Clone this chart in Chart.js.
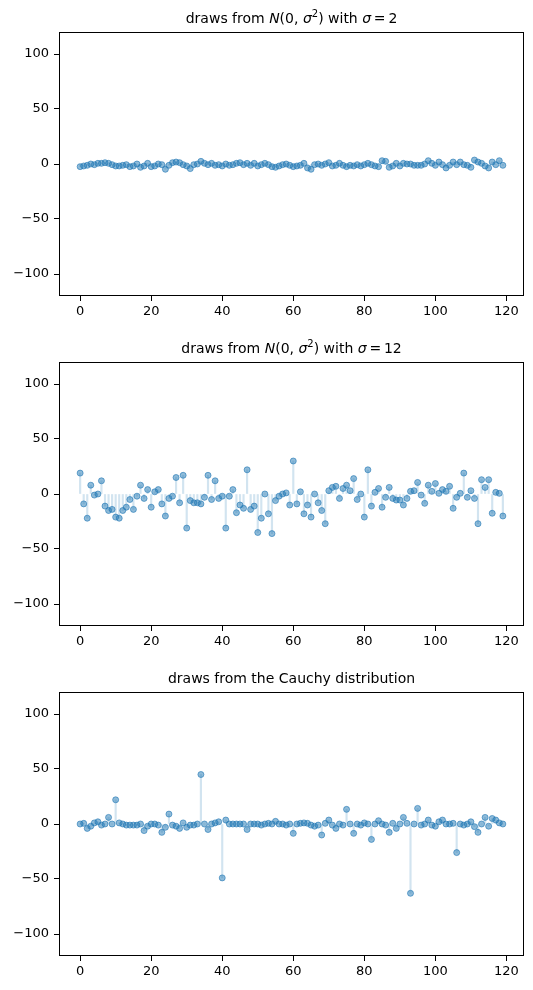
<!DOCTYPE html>
<html>
<head>
<meta charset="utf-8">
<script src="https://cdn.jsdelivr.net/npm/chart.js@4.4.1/dist/chart.umd.min.js"></script>
<style>
  body { margin: 0; background: #fff; }
  canvas { position: absolute; left: 0; }
</style>
</head>
<body>
<canvas id="panel0" width="533" height="330" style="top:0px"></canvas>
<canvas id="panel1" width="533" height="330" style="top:330px"></canvas>
<canvas id="panel2" width="533" height="330" style="top:660px"></canvas>
<script>
// draws (index 0..119 is the x position)
const normalSigma2 = [
  -2.4, -1.8, -1.2, 0, -0.6, 0.6, 0.6, 1.2, 0.6, -0.6,
  -1.8, -1.8, -1.2, -0.6, -2.4, -1.8, 0, -3, -1.8, 0.6,
  -2.4, -1.8, 0, -0.6, -4.8, -1.2, 1.2, 1.8, 1.2, -0.6,
  -1.8, -4.2, -0.6, 0, 2.4, 0.6, -0.6, 0.6, -1.2, -0.6,
  -1.8, 0, -1.2, -0.6, 0.6, 1.2, -0.6, 0.6, -1.2, 0.6,
  -1.8, -0.6, 0.6, -0.6, -2.4, -3, -1.8, -0.6, 0, -1.2,
  -2.4, -1.8, -1.2, 0.6, -3.6, -4.8, -0.6, 0, -1.2, 0,
  1.2, -1.8, -1.2, 0.6, -1.2, -2.4, -1.2, -1.8, -0.6, -1.8,
  -0.6, 0.6, -0.6, -1.8, -2.4, 3, 2.4, -3, -1.8, 0.6,
  -1.8, 0.6, 0, 0, -1.2, -1.2, -1.2, 0, 3, 0.6,
  -1.2, 1.8, -0.6, -3.6, -1.2, 1.8, -0.6, 1.8, -0.6, -1.2,
  -3, 3.6, 1.8, 0.6, -1.8, -3.6, 1.8, -0.6, 3, -1.2
];
const normalSigma12 = [
  19, -9, -22, 8, -1, 0, 12, -11, -15, -14,
  -21, -22, -15, -12, -5, -14, -2, 8, -4, 4,
  -12, 2, 4, -9, -20, -4, -2, 15, -8, 17,
  -31, -6, -8, -8, -9, -3, 17, -5, 12, -4,
  -2, -31, -2, 4, -17, -10, -13, 22, -14, -11,
  -35, -22, 0, -18, -36, -6, -2, 0, 1, -10,
  30, -9, 2, -18, -10, -21, 0, -8, -15, -27,
  3, 6, 7, -4, 5, 8, 3, 14, -5, 0,
  -21, 22, -11, 1.5, 5, -12, -3, 6, -4, -5.5,
  -5.5, -10, -4, 2.4, 3, 10.5, -1, -8.5, 8, 2.4,
  9.5, 0.6, 4, 2.4, 7, -13, -3, 0.6, 19, -3,
  3, -4, -27, 13, 6, 13, -17.5, 1.5, 0.6, -20
];
const cauchyDraws = [
  0, 0.6, -4, -2, 1, 2, -1, 0, 6, 0,
  22, 1, 0, -1, -1, -1, -1, 0, -6, -2,
  0, 0, -1, -7.6, -3, 9, -1, -2, -4, 1,
  -3, -1, -1, 0, 45, 0, -5, 0, 1, 2,
  -49, 3.6, 0, 0, 0, 0, 0, -5, 0, 0,
  0, -1, 0, 0.6, 0, 2.4, 0, 0, -1, 0,
  -8.5, 0, 0.6, 1, 0.6, -1, -2, -1, -10, 0.6,
  3.6, -1, -4, 0, -1, 13.3, 0, -8.5, 0, -1,
  1, 0, -14, 0, 3, 0, -1, -7.6, 0.6, -4,
  0, 6, 0.6, -63, 0, 14.2, -1, 0, 3.6, -1,
  -2, 2, 3.6, 0, 0, 0.6, -26, 0, -1, 0,
  2, -2.4, -7.6, 0, 6, -2, 5, 3.6, 1, 0
];

const panelSeries = [normalSigma2, normalSigma12, cauchyDraws];
// title pieces: [text, style] where style is '', 'i' (italic) or 's' (superscript)
const panelTitles = [
  [['draws from ', ''], ['N', 'i'], ['(0, ', ''], ['σ', 'i'], ['2', 's'], [') with ', ''], ['σ', 'i'], ['\u2009=\u20092', '']],
  [['draws from ', ''], ['N', 'i'], ['(0, ', ''], ['σ', 'i'], ['2', 's'], [') with ', ''], ['σ', 'i'], ['\u2009=\u200912', '']],
  [['draws from the Cauchy distribution', '']]
];
const xTicks = [0, 20, 40, 60, 80, 100, 120];
const yTicks = [-100, -50, 0, 50, 100];

Chart.defaults.font.family = '"DejaVu Sans", sans-serif';
Chart.defaults.font.size = 13;
Chart.defaults.color = '#000';

// axes frame on all four sides
const framePlugin = {
  id: 'frame',
  afterDraw(chart) {
    const a = chart.chartArea;
    const ctx = chart.ctx;
    ctx.save();
    ctx.strokeStyle = '#000';
    ctx.lineWidth = 1;
    ctx.strokeRect(a.left + 0.5, a.top + 0.5, a.right - a.left - 1, a.bottom - a.top - 1);
    ctx.restore();
  }
};

// title with italic / superscript pieces, like mathtext
const richTitlePlugin = {
  id: 'richTitle',
  afterDraw(chart, args, opts) {
    const ctx = chart.ctx;
    const a = chart.chartArea;
    const fontFor = s => s === 'i' ? 'oblique 14px "DejaVu Sans"' : (s === 's' ? '10px "DejaVu Sans"' : '14px "DejaVu Sans"');
    ctx.save();
    ctx.fillStyle = '#000';
    ctx.textBaseline = 'alphabetic';
    let total = 0;
    opts.pieces.forEach(p => { ctx.font = fontFor(p[1]); total += ctx.measureText(p[0]).width; });
    let x = (a.left + a.right) / 2 - total / 2;
    const y = a.top - 9;
    opts.pieces.forEach(p => {
      ctx.font = fontFor(p[1]);
      ctx.fillText(p[0], x, p[1] === 's' ? y - 6 : y);
      x += ctx.measureText(p[0]).width;
    });
    ctx.restore();
  }
};

function makePanel(id, values, pieces) {
  const points = values.map((v, i) => ({ x: i, y: v }));
  const stems = values.map((v, i) => ({ x: i, y: [0, v] }));
  new Chart(document.getElementById(id), {
    type: 'scatter',
    data: {
      datasets: [
        {
          type: 'bar',
          data: stems,
          backgroundColor: 'rgba(31,119,180,0.2)',
          borderWidth: 0,
          barThickness: 1.5,
          grouped: false,
          order: 2
        },
        {
          type: 'scatter',
          data: points,
          pointRadius: 3,
          pointBackgroundColor: 'rgba(31,119,180,0.5)',
          pointBorderColor: 'rgba(31,119,180,0.6)',
          pointBorderWidth: 1,
          order: 1
        }
      ]
    },
    options: {
      responsive: false,
      animation: false,
      devicePixelRatio: 1,
      layout: { padding: { left: 0, right: 9, top: 32, bottom: 0 } },
      plugins: {
        legend: { display: false },
        tooltip: { enabled: false },
        richTitle: { pieces: pieces }
      },
      scales: {
        x: {
          type: 'linear',
          min: -5.95,
          max: 124.95,
          offset: false,
          afterBuildTicks: s => { s.ticks = xTicks.map(v => ({ value: v })); },
          afterFit: s => { s.height = 34; },
          ticks: { padding: 3, maxRotation: 0, autoSkip: false, callback: v => String(v) },
          grid: { offset: false, drawOnChartArea: false, drawTicks: true, tickLength: 5, color: '#000', tickWidth: 1 },
          border: { display: false }
        },
        y: {
          type: 'linear',
          min: -120,
          max: 120,
          afterBuildTicks: s => { s.ticks = yTicks.map(v => ({ value: v })); },
          afterFit: s => { s.width = 59; },
          ticks: { padding: 5, autoSkip: false, callback: v => String(v).replace('-', '\u2212') },
          grid: { offset: false, drawOnChartArea: false, drawTicks: true, tickLength: 5, color: '#000', tickWidth: 1 },
          border: { display: false }
        }
      }
    },
    plugins: [framePlugin, richTitlePlugin]
  });
}

panelSeries.forEach((vals, k) => makePanel('panel' + k, vals, panelTitles[k]));
</script>
</body>
</html>
